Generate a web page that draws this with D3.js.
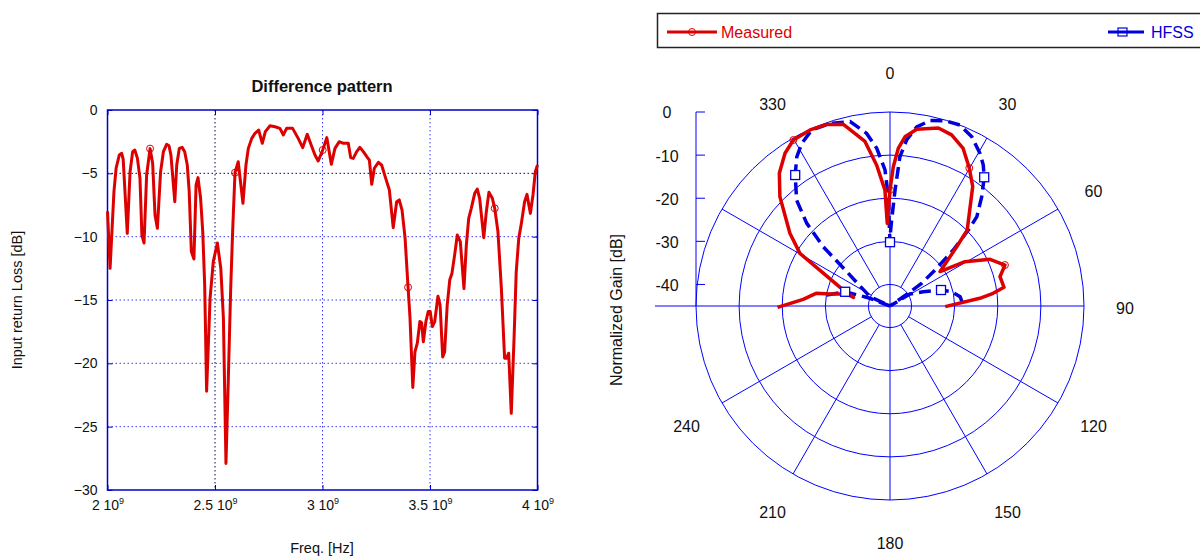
<!DOCTYPE html>
<html>
<head>
<meta charset="utf-8">
<script src="https://cdn.jsdelivr.net/npm/d3@7"></script>
<style>
  body { margin: 0; background: #fff; }
  svg { display: block; }
  text { font-family: "Liberation Sans", Arial, sans-serif; fill: #111; }
</style>
</head>
<body>
<svg id="chart" width="1200" height="556"></svg>
<script>
// ---------- Return loss of the difference port (left panel) ----------
const freqGHz = [
  2.000, 2.012, 2.030, 2.040, 2.055, 2.066, 2.073, 2.092, 2.105, 2.117, 2.127, 2.139, 2.151, 2.160, 2.170,
  2.182, 2.198, 2.210, 2.221, 2.232, 2.247, 2.260, 2.275, 2.286, 2.295, 2.313, 2.322, 2.334, 2.347, 2.359,
  2.371, 2.380, 2.390, 2.402, 2.412, 2.421, 2.433, 2.443, 2.452, 2.461, 2.477, 2.492, 2.511, 2.527, 2.539,
  2.551, 2.562, 2.573, 2.582, 2.593, 2.608, 2.630, 2.644, 2.655, 2.671, 2.686, 2.703, 2.720, 2.734, 2.756,
  2.779, 2.802, 2.818, 2.833, 2.861, 2.887, 2.908, 2.929, 2.950, 2.965, 2.980, 3.001, 3.020, 3.041, 3.058,
  3.078, 3.097, 3.120, 3.131, 3.143, 3.159, 3.174, 3.190, 3.206, 3.218, 3.229, 3.241, 3.260, 3.275, 3.294,
  3.311, 3.329, 3.345, 3.357, 3.370, 3.384, 3.398, 3.407, 3.420, 3.430, 3.441, 3.453, 3.461, 3.469, 3.481,
  3.492, 3.501, 3.511, 3.522, 3.537, 3.547, 3.559, 3.568, 3.580, 3.592, 3.602, 3.615, 3.627, 3.641, 3.658,
  3.669, 3.680, 3.692, 3.708, 3.720, 3.731, 3.750, 3.762, 3.774, 3.790, 3.801, 3.816, 3.832, 3.847, 3.855,
  3.866, 3.878, 3.891, 3.901, 3.913, 3.925, 3.940, 3.951, 3.967, 3.979, 3.990, 4.000
];
const returnLoss = [
  -8.0, -12.5, -6.45, -4.6, -3.55, -3.42, -3.9, -9.74, -4.87, -3.29, -3.16, -3.8, -5.4, -9.87, -10.5,
  -5.13, -3.05, -4.2, -8.29, -9.34, -4.87, -3.29, -2.71, -2.82, -3.55, -7.24, -4.34, -3.03, -2.95, -3.29,
  -4.34, -6.45, -11.18, -11.76, -5.92, -5.34, -6.97, -9.6, -13.8, -22.2, -14.9, -11.97, -10.5, -12.5, -16.4,
  -27.9, -21.2, -14.1, -9.6, -4.95, -4.08, -7.37, -4.34, -3.03, -2.24, -1.84, -1.58, -2.63, -1.71, -1.24,
  -1.32, -1.45, -1.97, -1.45, -1.45, -2.24, -2.97, -1.92, -2.89, -3.55, -4.03, -3.16, -2.18, -4.29, -3.03,
  -2.5, -2.63, -2.63, -3.76, -3.82, -3.29, -2.95, -3.29, -3.68, -3.95, -5.87, -4.6, -4.13, -4.34, -5.4,
  -6.32, -9.29, -7.24, -7.1, -7.9, -10.1, -14.0, -16.4, -21.9, -19.1, -18.4, -16.7, -16.8, -18.3, -16.7,
  -15.9, -15.9, -17.1, -16.7, -14.7, -15.4, -19.5, -19.1, -15.4, -13.4, -12.9, -11.4, -9.87, -10.4, -14.1,
  -10.66, -8.55, -7.76, -6.58, -6.24, -6.97, -10.08, -8.03, -6.5, -6.97, -7.76, -9.6, -14.1, -19.6, -19.6,
  -19.2, -23.95, -18.0, -12.8, -10.1, -8.95, -7.24, -6.66, -8.16, -6.71, -4.87, -4.34
];
const lossMarkFreq = [2.198, 2.593, 3.001, 3.398, 3.801];
const lossMarkValue = [-3.05, -4.95, -3.16, -14.0, -7.76];
const freqTicks = [2, 2.5, 3, 3.5, 4];
const freqTickLabels = ["2", "2.5", "3", "3.5", "4"];
const lossTicks = [0, -5, -10, -15, -20, -25, -30];

// ---------- Radiation pattern of the difference beam (right panel) ----------
const measuredAngle = [
  -90.7, -85.6, -80.3, -78.7, -74.5, -76.7, -71.1, -59.7, -54.0, -45.2, -39.8, -34.5, -30.2, -24.4, -19.2,
  -14.4, -8.65, -5.4, -2.5, -1.9, 0, 1.36, 3.0, 5.06, 8.6, 15.2, 19.8, 24.9, 29.9, 34.7,
  45.5, 48.4, 55.5, 59.4, 65.0, 70.4, 75.1, 80.7, 83.0, 85.1, 90.7
];
const measuredGain = [
  -18.9, -24.8, -27.6, -30.8, -34.6, -36.3, -33.5, -20.8, -16.3, -9.0, -4.9, -2.0, -0.45, -0.16, -0.4,
  -1.5, -6.4, -12.2, -18.1, -25.8, -18.1, -12.7, -8.4, -5.6, -3.55, -2.2, -2.8, -4.7, -8.1, -11.3,
  -19.9, -24.3, -30.9, -24.8, -19.4, -16.7, -18.6, -18.2, -20.9, -24.1, -32.2
];
const measuredMarkAngle = [-30.2, 0, 29.9, 70.4];
const measuredMarkGain = [-0.45, -18.1, -8.1, -16.7];

const hfssAngle = [
  -80.1, -72.4, -69.0, -67.0, -65.0, -51.6, -48.4, -45.2, -41.4, -35.9, -32.0, -28.5, -24.0, -18.2, -12.2,
  -7.7, -4.8, -2.1, -0.9, -0.4, 0, 0.5, 1.1, 2.5, 3.8, 5.7, 8.5, 12.2, 16.5, 21.1,
  25.8, 30.5, 33.5, 36.2, 40.0, 44.2, 45.9, 48.5, 51.1, 54.4, 55.2, 57.0, 59.0, 66.8, 72.6,
  77.0, 82.4, 89.2
];
const hfssGain = [
  -30.1, -34.1, -40.0, -45.0, -39.9, -32.2, -24.3, -17.8, -12.25, -7.5, -4.2, -2.1, -0.33, -0.4, -1.25,
  -4.6, -8.3, -13.4, -19.6, -27.4, -30.2, -27.4, -25.05, -18.1, -10.3, -6.3, -3.0, -1.0, -0.16, 0,
  -1.4, -3.9, -5.8, -8.0, -11.9, -16.1, -19.7, -25.4, -31.1, -36.0, -39.8, -45.0, -39.6, -36.6, -32.6,
  -30.3, -28.6, -28.0
];
const hfssMarkAngle = [-72.4, -35.9, 0, 36.2, 72.6];
const hfssMarkGain = [-34.1, -7.5, -30.2, -8.0, -32.6];

const gainTicks = [0, -10, -20, -30, -40];
const spokeAngles = [30, 60, 120, 150, 210, 240, 300, 330];
const angleLabels = [0, 30, 60, 90, 120, 150, 180, 210, 240, 330];

const RED = "#dd0000";
const BLUE = "#0000dd";
const GRID = "#0000ff";

const svg = d3.select("#chart");
svg.append("rect").attr("width", 1200).attr("height", 556).attr("fill", "#fff");

// ================= Left panel =================
const x = d3.scaleLinear().domain([2e9, 4e9]).range([107.5, 537.5]);
const y = d3.scaleLinear().domain([-30, 0]).range([490, 110]);
const left = svg.append("g");

// dotted grid
left.append("g").selectAll("line").data(freqTicks.slice(1, -1)).join("line")
  .attr("x1", d => x(d * 1e9)).attr("x2", d => x(d * 1e9))
  .attr("y1", y(0)).attr("y2", y(-30))
  .attr("stroke", d => d === 2.5 ? "#000060" : "#3a3af0")
  .attr("stroke-width", 1).attr("stroke-dasharray", "1.5,2.5");
left.append("g").selectAll("line").data(lossTicks.slice(1, -1)).join("line")
  .attr("x1", x(2e9)).attr("x2", x(4e9))
  .attr("y1", d => y(d)).attr("y2", d => y(d))
  .attr("stroke", d => d === -5 ? "#000060" : "#3a3af0")
  .attr("stroke-width", 1).attr("stroke-dasharray", "1.5,2.5");

// axes: inward ticks
const xAxis = left.append("g").attr("transform", `translate(0,${y(-30)})`)
  .call(d3.axisBottom(x).tickValues(freqTicks.map(d => d * 1e9)).tickSize(-5).tickFormat(""));
const xAxisTop = left.append("g").attr("transform", `translate(0,${y(0)})`)
  .call(d3.axisTop(x).tickValues(freqTicks.map(d => d * 1e9)).tickSize(-5).tickFormat(""));
const yAxis = left.append("g").attr("transform", `translate(${x(2e9)},0)`)
  .call(d3.axisLeft(y).tickValues(lossTicks).tickSize(-5).tickPadding(10).tickFormat(d3.format("d")));
const yAxisRight = left.append("g").attr("transform", `translate(${x(4e9)},0)`)
  .call(d3.axisRight(y).tickValues(lossTicks).tickSize(-5).tickFormat(""));
[xAxis, xAxisTop, yAxis, yAxisRight].forEach(g => {
  g.select(".domain").remove();
  g.selectAll(".tick line").attr("stroke", "#0000cc").attr("stroke-width", 1);
});
yAxis.selectAll(".tick text").attr("font-size", 14).attr("fill", "#111")
  .style("font-family", '"Liberation Sans", Arial, sans-serif');

// x tick labels with a raised exponent
xAxis.selectAll(".tick").each(function (d, i) {
  const t = d3.select(this).append("text")
    .attr("y", 20).attr("text-anchor", "middle").attr("font-size", 14).attr("fill", "#111")
    .style("font-family", '"Liberation Sans", Arial, sans-serif');
  t.append("tspan").text(freqTickLabels[i] + " 10");
  t.append("tspan").attr("dy", -6).attr("font-size", 9).text("9");
});

// frame
left.append("rect")
  .attr("x", x(2e9)).attr("y", y(0))
  .attr("width", x(4e9) - x(2e9)).attr("height", y(-30) - y(0))
  .attr("fill", "none").attr("stroke", "#0000cc").attr("stroke-width", 1.5);

// curve
const lossLine = d3.line().x(d => x(d[0] * 1e9)).y(d => y(d[1]));
left.append("path")
  .datum(freqGHz.map((f, i) => [f, returnLoss[i]]))
  .attr("d", lossLine)
  .attr("fill", "none").attr("stroke", RED).attr("stroke-width", 3)
  .attr("stroke-linejoin", "round");
left.append("g").selectAll("circle").data(lossMarkFreq).join("circle")
  .attr("cx", d => x(d * 1e9)).attr("cy", (d, i) => y(lossMarkValue[i]))
  .attr("r", 3.5).attr("fill", "none").attr("stroke", RED).attr("stroke-width", 1);

// titles
left.append("text").attr("x", 322).attr("y", 92).attr("text-anchor", "middle")
  .attr("font-size", 16.5).attr("font-weight", "bold").text("Difference pattern");
left.append("text").attr("x", 322).attr("y", 553).attr("text-anchor", "middle")
  .attr("font-size", 14.5).text("Freq. [Hz]");
left.append("text").attr("transform", "translate(22,300) rotate(-90)").attr("text-anchor", "middle")
  .attr("font-size", 14.5).text("Input return Loss [dB]");

// ================= Right panel (polar) =================
const cx = 890, cy = 306, R = 194;
const r = d3.scaleLinear().domain([-45, 0]).range([0, R]).clamp(true);
const rad = a => a * Math.PI / 180;
const polar = svg.append("g").attr("transform", `translate(${cx},${cy})`);

// rings
polar.append("g").selectAll("circle").data(gainTicks).join("circle")
  .attr("r", d => r(d)).attr("fill", "none").attr("stroke", GRID).attr("stroke-width", 1);
// spokes
polar.append("g").selectAll("line").data(spokeAngles).join("line")
  .attr("x1", d => r(-40) * Math.sin(rad(d))).attr("y1", d => -r(-40) * Math.cos(rad(d)))
  .attr("x2", d => R * Math.sin(rad(d))).attr("y2", d => -R * Math.cos(rad(d)))
  .attr("stroke", GRID).attr("stroke-width", 1);
polar.append("line").attr("x1", 0).attr("x2", 0).attr("y1", -R).attr("y2", R)
  .attr("stroke", GRID).attr("stroke-width", 1);
polar.append("line").attr("x1", -235).attr("x2", R).attr("y1", 0).attr("y2", 0)
  .attr("stroke", GRID).attr("stroke-width", 1);

// radial gain axis on the left
const gAxis = polar.append("g").attr("transform", `translate(${-R},0)`);
gAxis.append("line").attr("x1", 0).attr("x2", 0).attr("y1", -R).attr("y2", 0)
  .attr("stroke", GRID).attr("stroke-width", 1);
gAxis.selectAll("line.tk").data(gainTicks).join("line").attr("class", "tk")
  .attr("x1", 0).attr("x2", 9).attr("y1", d => -r(d)).attr("y2", d => -r(d))
  .attr("stroke", GRID).attr("stroke-width", 1);
gAxis.selectAll("text").data(gainTicks).join("text")
  .attr("x", -29).attr("y", d => -r(d)).attr("dy", "0.4em").attr("text-anchor", "middle")
  .attr("font-size", 16).text(d => d);
polar.append("text").attr("transform", `translate(${-268},4) rotate(-90)`).attr("text-anchor", "middle")
  .attr("font-size", 16).text("Normalized Gain [dB]");

// angle labels
polar.append("g").selectAll("text").data(angleLabels).join("text")
  .attr("x", d => 235 * Math.sin(rad(d))).attr("y", d => -235 * Math.cos(rad(d)))
  .attr("dy", "0.5em").attr("text-anchor", "middle").attr("font-size", 16).text(d => d);

// curves
const radial = d3.lineRadial().angle(d => rad(d[0])).radius(d => r(d[1]));
polar.append("path")
  .datum(hfssAngle.map((a, i) => [a, hfssGain[i]]))
  .attr("d", radial).attr("fill", "none").attr("stroke", BLUE).attr("stroke-width", 3.5)
  .attr("stroke-dasharray", "12,6");
polar.append("path")
  .datum(measuredAngle.map((a, i) => [a, measuredGain[i]]))
  .attr("d", radial).attr("fill", "none").attr("stroke", RED).attr("stroke-width", 3.5)
  .attr("stroke-linejoin", "round");

const px = (a, g) => r(g) * Math.sin(rad(a));
const py = (a, g) => -r(g) * Math.cos(rad(a));
polar.append("g").selectAll("circle").data(measuredMarkAngle).join("circle")
  .attr("cx", (d, i) => px(d, measuredMarkGain[i])).attr("cy", (d, i) => py(d, measuredMarkGain[i]))
  .attr("r", 3.5).attr("fill", "none").attr("stroke", RED).attr("stroke-width", 1);
polar.append("g").selectAll("rect").data(hfssMarkAngle).join("rect")
  .attr("x", (d, i) => px(d, hfssMarkGain[i]) - 4.5).attr("y", (d, i) => py(d, hfssMarkGain[i]) - 4.5)
  .attr("width", 9).attr("height", 9).attr("fill", "#fff").attr("stroke", BLUE).attr("stroke-width", 1.3);

// legend
const legend = svg.append("g");
legend.append("rect").attr("x", 657.5).attr("y", 13.5).attr("width", 600).attr("height", 34)
  .attr("fill", "#fff").attr("stroke", "#222").attr("stroke-width", 1.5);
legend.append("line").attr("x1", 667).attr("x2", 717).attr("y1", 32).attr("y2", 32)
  .attr("stroke", RED).attr("stroke-width", 3);
legend.append("circle").attr("cx", 692).attr("cy", 32).attr("r", 3.5)
  .attr("fill", "none").attr("stroke", RED).attr("stroke-width", 1);
legend.append("text").attr("x", 721).attr("y", 37.5).attr("font-size", 16)
  .style("fill", RED).text("Measured");
legend.append("line").attr("x1", 1108).attr("x2", 1144).attr("y1", 32).attr("y2", 32)
  .attr("stroke", BLUE).attr("stroke-width", 3);
legend.append("rect").attr("x", 1118).attr("y", 28).attr("width", 9).attr("height", 8)
  .attr("fill", "none").attr("stroke", BLUE).attr("stroke-width", 1.2);
legend.append("text").attr("x", 1151).attr("y", 37.5).attr("font-size", 16)
  .style("fill", BLUE).text("HFSS");
</script>
</body>
</html>
